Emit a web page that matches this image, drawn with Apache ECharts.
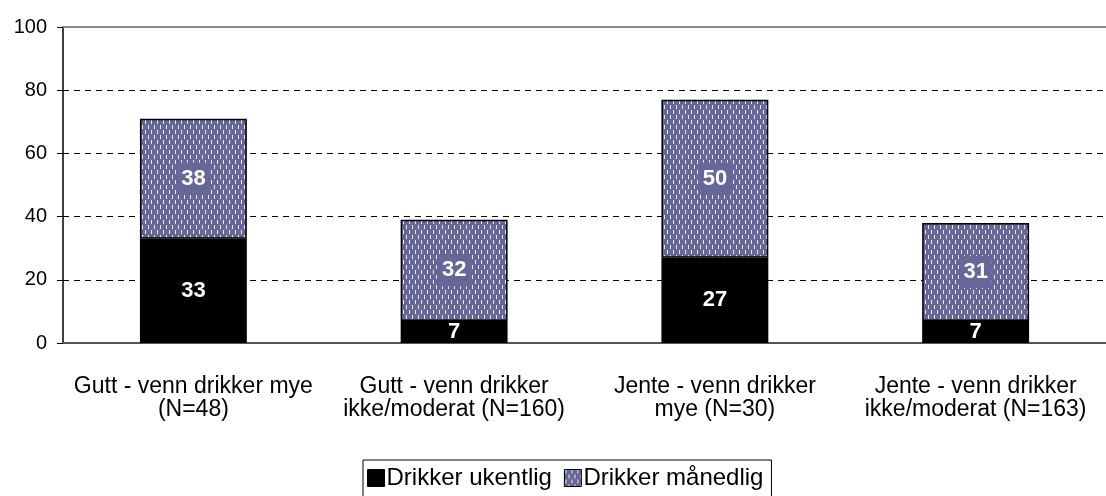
<!DOCTYPE html>
<html><head><meta charset="utf-8">
<script src="https://cdn.jsdelivr.net/npm/echarts@6/dist/echarts.min.js"></script>
<style>html,body{margin:0;padding:0;background:#fff}#c{width:1106px;height:496px}</style>
</head><body><div id="c"></div>
<script>
const categories = ['Gutt - venn drikker mye\n(N=48)', 'Gutt - venn drikker\nikke/moderat (N=160)', 'Jente - venn drikker\nmye (N=30)', 'Jente - venn drikker\nikke/moderat (N=163)'];
const weekly = [33, 7, 27, 7];
const monthly = [38, 32, 50, 31];
const seriesNames = ['Drikker ukentlig', 'Drikker månedlig'];
const yTicks = {min: 0, max: 100, interval: 20};

function makePattern() {
  const c = document.createElement('canvas');
  c.width = 6; c.height = 10;
  const g = c.getContext('2d');
  g.fillStyle = '#666699'; g.fillRect(0, 0, 6, 10);
  g.fillStyle = '#e8e8f2';
  g.fillRect(1, 0, 1, 4);
  g.fillRect(4, 5, 1, 4);
  return c;
}
const pattern = {image: makePattern(), repeat: 'repeat'};
const font = '"Liberation Sans", Arial, sans-serif';
const chart = echarts.init(document.getElementById('c'), null, {renderer: 'canvas'});
const lbl = (bg) => ({
  show: true, position: 'inside', color: '#fff', fontWeight: 'bold', fontSize: 22,
  fontFamily: font, backgroundColor: bg, padding: [6, 4, 4, 4]
});
chart.setOption({
  animation: false,
  grid: {left: 63, right: 0, top: 27, bottom: 153},
  legend: {
    top: 460, left: 363, icon: 'rect', itemWidth: 17, itemHeight: 17, itemGap: 12,
    borderColor: '#000', borderWidth: 1, padding: [6, 8, 10, 4],
    textStyle: {fontSize: 24, fontFamily: font, color: '#000', padding: [0, 0, 0, -3]},
    data: seriesNames.map(n => ({name: n, itemStyle: {borderColor: '#000', borderWidth: 1}}))
  },
  xAxis: [{
    type: 'category', data: categories,
    axisLine: {lineStyle: {color: '#555', width: 2}},
    axisTick: {show: false},
    axisLabel: {fontSize: 23, fontFamily: font, color: '#000', margin: 32, lineHeight: 23, interval: 0}
  }, {
    type: 'category', data: categories, position: 'top',
    axisLine: {lineStyle: {color: '#888', width: 2}},
    axisTick: {show: false}, axisLabel: {show: false}
  }],
  yAxis: {
    type: 'value', min: yTicks.min, max: yTicks.max, interval: yTicks.interval,
    axisLine: {show: true, lineStyle: {color: '#000', width: 1.5}},
    axisTick: {show: true, length: 6, lineStyle: {color: '#000'}},
    axisLabel: {fontSize: 20, fontFamily: font, color: '#000', margin: 16},
    splitLine: {show: true, lineStyle: {color: '#000', type: [6, 5], width: 1}}
  },
  series: [{
    name: seriesNames[0], type: 'bar', stack: 's', data: weekly, barWidth: '41%',
    itemStyle: {color: '#000', borderColor: '#000', borderWidth: 1.5},
    label: lbl('transparent')
  }, {
    name: seriesNames[1], type: 'bar', stack: 's', data: monthly, barWidth: '41%',
    itemStyle: {color: pattern, borderColor: '#000', borderWidth: 1.5},
    label: lbl('#666699')
  }]
});
</script></body></html>
